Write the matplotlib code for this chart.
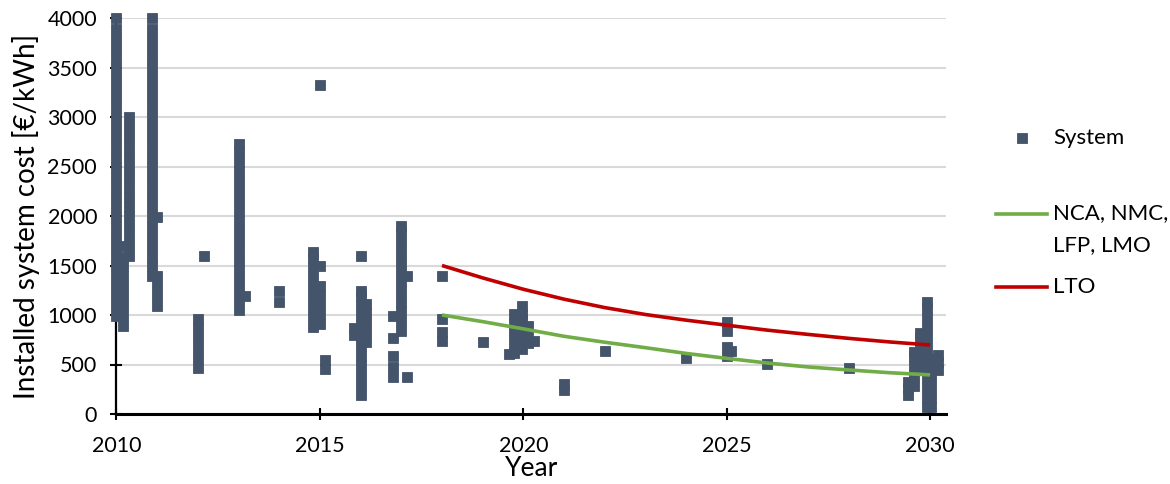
import matplotlib.pyplot as plt
from matplotlib.lines import Line2D

# ---------- data ----------
col_year = [2010.0, 2010.15, 2010.3, 2010.87, 2011.0, 2012.0, 2012.14, 2013.0, 2013.15,
            2014.0, 2014.83, 2015.0, 2015.13, 2015.84, 2016.0, 2016.13, 2016.8, 2017.0,
            2017.14, 2018.0, 2019.0, 2019.66, 2019.78, 2019.97, 2020.11, 2020.26, 2021.0,
            2022.0, 2024.0, 2025.0, 2025.1, 2026.0, 2028.0, 2029.46, 2029.6, 2029.75,
            2029.92, 2030.03, 2030.2]
col_cost = [
    [990, 1090, 1190, 1290, 1390, 1490, 1590, 1690, 1790, 1890, 1990, 2090, 2190, 2290,
     2390, 2490, 2590, 2690, 2790, 2890, 2990, 3090, 3190, 3290, 3390, 3490, 3590, 3690,
     3790, 3890, 4000],
    [890, 990, 1090, 1190, 1290, 1390, 1490, 1590, 1695],
    [1595, 1695, 1795, 1895, 1995, 2095, 2195, 2295, 2395, 2495, 2595, 2695, 2795, 2895, 2995],
    [1390, 1490, 1590, 1690, 1790, 1890, 1990, 2090, 2190, 2290, 2390, 2490, 2590, 2690,
     2790, 2890, 2990, 3090, 3190, 3290, 3390, 3490, 3590, 3690, 3790, 3890, 4000],
    [1090, 1190, 1290, 1390, 1987],
    [465, 565, 665, 765, 865, 955],
    [1594],
    [1050, 1150, 1250, 1350, 1450, 1550, 1650, 1750, 1850, 1950, 2050, 2150, 2250, 2350,
     2450, 2550, 2650, 2725],
    [1190],
    [1130, 1240],
    [880, 980, 1080, 1180, 1280, 1380, 1480, 1580, 1640],
    [905, 1005, 1105, 1205, 1288, 1491, 3320],
    [453, 550],
    [796, 864],
    [190, 290, 390, 490, 590, 690, 790, 890, 990, 1090, 1190, 1247, 1593],
    [725, 825, 925, 1025, 1116],
    [372, 475, 581, 766, 987],
    [836, 936, 1036, 1136, 1236, 1336, 1436, 1536, 1636, 1736, 1836, 1894],
    [371, 1391],
    [742, 833, 955, 1392],
    [724],
    [604],
    [618, 718, 818, 918, 1012],
    [659, 759, 859, 959, 1015, 1086],
    [719, 800, 884],
    [738],
    [240, 298],
    [633],
    [566],
    [581, 672, 836, 927],
    [633],
    [510],
    [460],
    [190, 260, 328],
    [281, 381, 481, 581, 624],
    [467, 567, 667, 767, 823],
    [66, 166, 266, 366, 466, 566, 666, 766, 866, 966, 1066, 1129],
    [66, 166, 266, 366, 466, 560],
    [449, 525, 601],
]

proj_year = [2018, 2019, 2020, 2021, 2022, 2023, 2024, 2025, 2026, 2027, 2028, 2029, 2030]
nca_cost  = [1000, 933, 860, 785, 725, 670, 612, 562, 515, 475, 445, 417, 395]
lto_cost  = [1500, 1375, 1260, 1160, 1075, 1005, 948, 897, 847, 804, 764, 728, 697]

sys_x = [y for y, vals in zip(col_year, col_cost) for _ in vals]
sys_y = [v for vals in col_cost for v in vals]

# ---------- style ----------
plt.rcParams['font.family'] = ['Lato', 'DejaVu Sans']
SYS_C = '#44546A'
GREEN = '#70AD47'
RED   = '#C00000'
MS, MEW = 7.4, 0.6

fig = plt.figure(figsize=(11.7, 4.84), dpi=100)
ax = fig.add_axes([116.5/1170, 70/484, (946-116.5)/1170, 396/484])

ax.plot(sys_x, sys_y, 's', ms=MS, mew=MEW, color=SYS_C, mec=SYS_C, clip_on=False, zorder=3)
ax.plot(proj_year, nca_cost, color=GREEN, lw=2.6, zorder=4, solid_capstyle='butt')
ax.plot(proj_year, lto_cost, color=RED, lw=2.6, zorder=4, solid_capstyle='butt')

ax.set_xlim(2010, 2030.39)
ax.set_ylim(0, 4000)
ax.set_xticks([2010, 2015, 2020, 2025, 2030])
ax.set_yticks(range(0, 4001, 500))
ax.grid(axis='y', color='#D9D9D9', lw=1.5, zorder=0)
ax.set_axisbelow(True)
for s in ['top', 'right']:
    ax.spines[s].set_visible(False)
ax.spines['bottom'].set_linewidth(2.2)
ax.spines['left'].set_linewidth(1.6)
ax.tick_params(direction='inout', length=8, width=1.5, labelsize=15.5)
ax.tick_params(axis='x', pad=12)
ax.tick_params(axis='y', pad=10)
ax.set_ylabel('Installed system cost [€/kWh]', fontsize=20, labelpad=5)
ax.set_xlabel('Year', fontsize=19, labelpad=0)

# ---------- legend (outside, right) ----------
def fx(px): return px / 1170
def fy(py): return 1 - py / 484

fig.add_artist(Line2D([fx(1022)], [fy(138)], marker='s', ms=MS, mew=MEW,
                      color=SYS_C, mec=SYS_C, ls=''))
fig.text(fx(1053), fy(138), 'System', fontsize=16, va='center')
fig.add_artist(Line2D([fx(996), fx(1047)], [fy(214), fy(214)], color=GREEN, lw=2.6))
fig.text(fx(1053), fy(213), 'NCA, NMC,', fontsize=16, va='center')
fig.text(fx(1053), fy(245), 'LFP, LMO', fontsize=16, va='center')
fig.add_artist(Line2D([fx(996), fx(1047)], [fy(287), fy(287)], color=RED, lw=2.6))
fig.text(fx(1053), fy(287), 'LTO', fontsize=16, va='center')

fig.savefig('out.png', dpi=100)
